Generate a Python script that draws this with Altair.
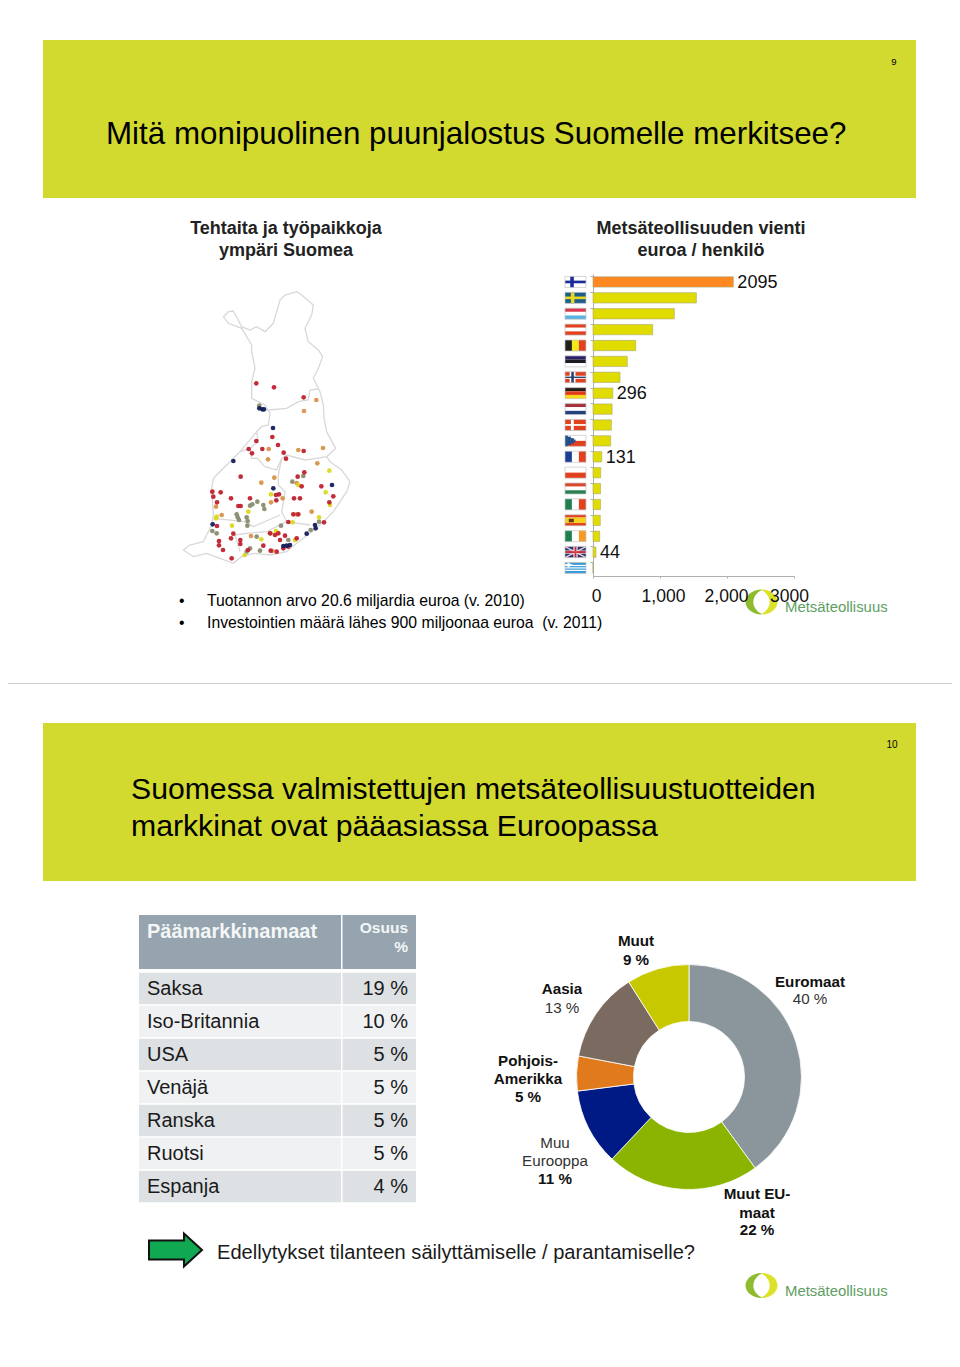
import altair as alt
import pandas as pd

FONT = "Liberation Sans"
PAGE_W, PAGE_H = 960, 1367

# ---- bar chart data
countries = ["FI","SE","LU","AT","BE","EE","NO","DE","NL","DK","CZ","FR","PL","HU","IT","ES","IE","UK","GR"]
export_values = [2095,1543,1214,891,637,512,403,296,285,274,264,131,115,113,113,109,100,44,0]
labelled = ["FI","DE","FR","UK"]

# ---- donut data
donut_names = ["Euromaat","Muut EU-maat","Muu Eurooppa","Pohjois-Amerikka","Aasia","Muut"]
donut_share = [40,22,11,5,13,9]
donut_colors = ["#8A969C","#8AB400","#001A85","#E07A1C","#7A6A60","#C8C800"]

# ---- table data
table_names = ["Saksa","Iso-Britannia","USA","Venäjä","Ranska","Ruotsi","Espanja"]
table_vals = ["19 %","10 %","5 %","5 %","5 %","5 %","4 %"]

# ---- flags: country, fx0, fx1, fy0, fy1, colour
R, B, W = "#E2411F", "#1F3F8F", "#FFFFFF"
flags = [
 ("FI",0,1,0,1,W),("FI",.25,.42,0,1,"#1A2A9A"),("FI",0,1,.38,.62,"#1A2A9A"),
 ("SE",0,1,0,1,"#1B5E8C"),("SE",.28,.45,0,1,"#E6D81E"),("SE",0,1,.38,.62,"#E6D81E"),
 ("LU",0,1,0,.33,"#D9394A"),("LU",0,1,.33,.66,W),("LU",0,1,.66,1,"#58B4E0"),
 ("AT",0,1,0,.33,R),("AT",0,1,.33,.66,W),("AT",0,1,.66,1,R),
 ("BE",0,.33,0,1,"#231F1A"),("BE",.33,.66,0,1,"#F4E81A"),("BE",.66,1,0,1,R),
 ("EE",0,1,0,.33,"#2A1F6A"),("EE",0,1,.33,.66,"#1E1A22"),("EE",0,1,.66,1,W),
 ("NO",0,1,0,1,R),("NO",.22,.5,0,1,W),("NO",0,1,.36,.64,W),("NO",.3,.42,0,1,"#1F3F6F"),("NO",0,1,.44,.56,"#1F3F6F"),
 ("DE",0,1,0,.33,"#241C14"),("DE",0,1,.33,.66,"#E03A1A"),("DE",0,1,.66,1,"#F8D81A"),
 ("NL",0,1,0,.33,"#A8303A"),("NL",0,1,.33,.66,W),("NL",0,1,.66,1,"#24407F"),
 ("DK",0,1,0,1,R),("DK",.28,.42,0,1,W),("DK",0,1,.42,.58,W),
 ("CZ",0,1,0,.5,W),("CZ",0,1,.5,1,R),("CZ",0,.14,0,1,"#1F4F8A"),("CZ",.14,.28,.12,.88,"#1F4F8A"),("CZ",.28,.42,.25,.75,"#1F4F8A"),("CZ",.42,.5,.38,.62,"#1F4F8A"),
 ("FR",0,.33,0,1,"#1A3F95"),("FR",.33,.66,0,1,W),("FR",.66,1,0,1,R),
 ("PL",0,1,0,.5,W),("PL",0,1,.5,1,R),
 ("HU",0,1,0,.33,"#D84A2F"),("HU",0,1,.33,.66,W),("HU",0,1,.66,1,"#2A8050"),
 ("IT",0,.33,0,1,"#1E8050"),("IT",.33,.66,0,1,W),("IT",.66,1,0,1,R),
 ("ES",0,1,0,.25,R),("ES",0,1,.25,.75,"#F6D01E"),("ES",0,1,.75,1,R),("ES",.18,.42,.36,.68,"#6A3A1A"),
 ("IE",0,.33,0,1,"#1E8050"),("IE",.33,.66,0,1,W),("IE",.66,1,0,1,"#F59A24"),
 ("UK",0,1,0,1,"#2A2F6F"),("UK",.4,.6,0,1,W),("UK",0,1,.36,.64,W),("UK",.45,.55,0,1,"#C8283A"),("UK",0,1,.43,.57,"#C8283A"),
 ("GR",0,1,0,1,"#3A9AD8"),("GR",0,1,.22,.33,W),("GR",0,1,.44,.55,W),("GR",0,1,.66,.77,W),("GR",0,.35,.15,.3,W),("GR",.12,.22,0,.44,W),
]
uk_diagonals = [(0,0,1,1),(0,1,1,0)]

# ---- Finland outline (page px)
map_outline = [(160,95),(175,80),(190,78),(205,105),(215,125),(240,135),(260,125),(285,140),(310,115),(320,80),(330,45),(345,30),(380,20),(395,30),(430,60),(425,90),(405,130),(415,170),(445,195),(458,215),(445,250),(430,280),(450,320),(460,360),(462,400),(470,440),(497,490),(470,515),(480,530),(515,555),(540,590),(530,620),(510,650),(490,680),(460,710),(420,745),(380,775),(350,800),(300,810),(250,805),(215,815),(190,835),(150,820),(110,805),(70,815),(40,795),(60,780),(100,770),(125,720),(130,690),(125,610),(130,580),(170,540),(210,500),(260,440),(275,425),(295,420),(300,385),(285,360),(245,340),(245,290),(255,250),(245,200),(245,180),(215,130),(175,115),(160,95)]
map_regions = [
 [(295,375),(350,370),(385,350),(415,345),(420,315),(445,312)],
 [(260,440),(265,470),(240,490),(210,500)],
 [(240,490),(245,520),(262,520),(285,545),(320,555),(335,520),(350,510),(405,525),(440,520),(470,515)],
 [(335,520),(325,570),(325,600),(345,620),(335,680),(350,710),(420,720)],
 [(130,700),(225,710),(250,725),(330,690)],
 [(195,750),(230,745),(290,740),(350,710)],
 [(195,750),(210,800)],
]
map_red = [(259,295),(312,307),(401,337),(307,456),(259,468),(324,480),(277,492),(236,492),(246,505),(341,503),(348,521),(401,498),(403,562),(383,575),(212,575),(395,604),(372,640),(390,640),(454,604),(490,634),(318,630),(327,628),(319,646),(240,640),(183,640),(152,622),(127,620),(130,635),(141,652),(205,663),(212,663),(355,711),(370,688),(385,688),(478,652),(141,723),(190,746),(183,760),(211,765),(211,777),(147,768),(147,781),(159,795),(185,820),(280,782),(234,795),(302,797),(320,800),(345,752),(330,765),(340,790),(355,785),(380,760),(462,712),(300,745),(315,750),(325,745)]
map_navy = [(268,370),(277,373),(282,373),(309,429),(190,528),(310,610),(486,600),(128,718),(410,746),(435,720),(437,730),(340,783),(350,782),(360,780)]
map_orange = [(439,345),(402,378),(296,492),(294,523),(385,495),(459,489),(442,535),(313,578),(274,593),(338,640),(303,652),(425,680),(380,688),(155,690),(138,665),(302,745),(243,753),(307,798),(380,594)]
map_yellow = [(478,557),(467,622),(480,660),(303,628),(186,722),(138,700),(140,695),(235,680),(274,763),(224,810),(368,712),(375,765),(318,738),(447,697),(385,600),(320,745)]
map_grey = [(367,590),(400,573),(262,650),(240,662),(247,658),(280,660),(283,672),(200,688),(203,697),(207,705),(230,697),(233,708),(232,722),(127,738),(140,745),(260,755),(270,797),(240,790),(230,800),(355,765),(422,735),(447,710),(333,722),(268,362)]


def zx(v): return 170 + v / 3
def zy(v): return 285 + v / 3

PX = alt.Scale(domain=[0, PAGE_W], range=[-8, PAGE_W - 8], nice=False, zero=False)
PY = alt.Scale(domain=[0, PAGE_H], range=[-8, PAGE_H - 8], nice=False, zero=False)
X = lambda f="x": alt.X(f"{f}:Q", scale=PX, axis=None)
Y = lambda f="y": alt.Y(f"{f}:Q", scale=PY, axis=None)


def rects(rows, **kw):
    df = pd.DataFrame(rows, columns=["x", "x1", "y", "y1", "c"])
    return alt.Chart(df).mark_rect(**kw).encode(X(), x2="x1:Q", y=Y(), y2="y1:Q",
                                                 fill=alt.Fill("c:N", scale=None))


def texts(rows, size, color="#000000", weight="normal", align="left", **kw):
    df = pd.DataFrame(rows, columns=["x", "y", "t"])
    return alt.Chart(df).mark_text(font=FONT, fontSize=size, color=color, fontWeight=weight,
                                   align=align, baseline="alphabetic", **kw).encode(X(), Y(), text="t:N")


layers = []
# panels
layers.append(rects([(43, 916, 40, 198, "#D2D92F"), (43, 916, 723, 881, "#D2D92F"),
                     (0, 960, 683, 684, "#CFCFCF")]))
layers.append(texts([(894, 65, "9")], 9.5, align="center"))
layers.append(texts([(892, 748, "10")], 10, align="center"))
layers.append(texts([(106, 144, "Mitä monipuolinen puunjalostus Suomelle merkitsee?")], 31.35))
layers.append(texts([(131, 799, "Suomessa valmistettujen metsäteollisuustuotteiden"),
                     (131, 836, "markkinat ovat pääasiassa Euroopassa")], 30.2))
layers.append(texts([(286, 234, "Tehtaita ja työpaikkoja"), (286, 256, "ympäri Suomea"),
                     (701, 234, "Metsäteollisuuden vienti"), (701, 256, "euroa / henkilö")],
                    18, weight="bold", align="center", color="#222222"))
layers.append(texts([(179, 606, "•"), (179, 628, "•"),
                     (207, 606, "Tuotannon arvo 20.6 miljardia euroa (v. 2010)"),
                     (207, 628, "Investointien määrä lähes 900 miljoonaa euroa\u00a0 (v. 2011)")], 15.75))

# map
for i, line in enumerate([map_outline] + map_regions):
    df = pd.DataFrame([{"x": zx(a), "y": zy(b), "i": k} for k, (a, b) in enumerate(line)])
    layers.append(alt.Chart(df).mark_line(color="#D8D8D8", strokeWidth=1.3).encode(X(), Y(), order="i:Q"))
for pts, col in [(map_orange, "#D9924A"), (map_grey, "#8A8C70"), (map_yellow, "#DCD820"),
                 (map_red, "#C0212E"), (map_navy, "#141E5A")]:
    df = pd.DataFrame([{"x": zx(a), "y": zy(b)} for a, b in pts])
    layers.append(alt.Chart(df).mark_circle(color=col, size=22, opacity=.95).encode(X(), Y()))

# flags
ROW0, ROWS = 274, 15.89
flag_rows = []
for c, a, b, t, u, col in flags:
    cy = ROW0 + ROWS * (countries.index(c) + .5)
    flag_rows.append((565 + 21 * a, 565 + 21 * b, cy - 5.5 + 11 * t, cy - 5.5 + 11 * u, col))
layers.append(rects(flag_rows))
uk_y = ROW0 + ROWS * (countries.index("UK") + .5)
for a, t, b, u in uk_diagonals:
    df = pd.DataFrame([{"x": 565 + 21 * a, "y": uk_y - 5.5 + 11 * t, "k": 0},
                       {"x": 565 + 21 * b, "y": uk_y - 5.5 + 11 * u, "k": 1}])
    layers.append(alt.Chart(df).mark_line(color="#E8D0D4", strokeWidth=1.5).encode(X(), Y(), order="k:Q"))
layers.append(rects([(565, 586, uk_y - .8, uk_y + .8, "#C8283A")]))
frame_rows = [(565, 586, ROW0 + ROWS * (i + .5) - 5.5, ROW0 + ROWS * (i + .5) + 5.5, "transparent")
              for i in range(len(countries))]
layers.append(rects(frame_rows, stroke="#C4C4C4", strokeWidth=.7))

# bars
bar_df = pd.DataFrame({"c": countries, "v": export_values,
                       "col": ["#FF8820"] + ["#E0DC00"] * (len(countries) - 1)})
BX = alt.Scale(domain=[0, 3000], range=[585, 786], nice=False)
BY = alt.Scale(domain=countries, range=[266, 568], paddingInner=.35, paddingOuter=.175)
layers.append(alt.Chart(bar_df).mark_bar(stroke="#A8A878", strokeWidth=.6).encode(
    x=alt.X("v:Q", scale=BX, axis=alt.Axis(
        orient="bottom", offset=568 - (PAGE_H - 16), values=[0, 1000, 2000, 3000], title=None, grid=False,
        domainColor="#B0B0B0", tickColor="#B0B0B0", tickSize=2, labelFont=FONT, labelFontSize=17.5,
        labelColor="#111111", labelPadding=9, labelOverlap=False, labelFlush=False, zindex=1,
        labelExpr="datum.value==3000?'3000':format(datum.value,',')",
        labelOffset={"condition": [{"test": "datum.value==3000", "value": -5},
                                   {"test": "datum.value==2000", "value": -1}], "value": 3})),
    y=alt.Y("c:N", scale=BY, sort=countries, axis=alt.Axis(
        orient="left", offset=-585, labels=False, title=None, grid=False, bandPosition=0,
        domainColor="#B0B0B0", tickColor="#B0B0B0", tickSize=3)),
    fill=alt.Fill("col:N", scale=None)))
layers.append(alt.Chart(bar_df[bar_df.c.isin(labelled)]).mark_text(
    font=FONT, fontSize=18, align="left", baseline="middle", dx=4, dy=1, color="#111111").encode(
    x=alt.X("v:Q", scale=BX, axis=None), y=alt.Y("c:N", scale=BY, sort=countries, axis=None),
    text="v:Q"))

# logos
LEFT_HALF = "M0,-0.78C-0.55,-0.78,-1,-0.43,-1,0C-1,0.43,-0.55,0.78,0,0.78Z"
RIGHT_HALF = "M0,-0.78C0.55,-0.78,1,-0.43,1,0C1,0.43,0.55,0.78,0,0.78Z"
LEAF = "M0,-0.74C0.68,-0.4,0.68,0.4,0,0.74C-0.68,0.4,-0.68,-0.4,0,-0.74Z"
for cx, cy, tb in [(761.5, 602, 612), (761.5, 1285.5, 1296)]:
    for shape, col in [(LEFT_HALF, "#8FBB2E"), (RIGHT_HALF, "#DCE22A"), (LEAF, "#FFFFFF")]:
        df = pd.DataFrame([{"x": cx, "y": cy}])
        layers.append(alt.Chart(df).mark_point(shape=shape, size=1024, filled=True, color=col, opacity=1)
                      .encode(X(), Y()))
    layers.append(texts([(785, tb, "Metsäteollisuus")], 14.9, color="#5E9E62"))

# table
table_rects = [(139, 341, 915, 969, "#95A4AE"), (342.5, 416, 915, 969, "#95A4AE")]
table_text, table_num = [], []
for i, (n, v) in enumerate(zip(table_names, table_vals)):
    t = 972.7 + 33 * i
    col = "#DDE1E4" if i % 2 == 0 else "#EFF1F3"
    table_rects += [(139, 341, t, t + 31.5, col), (342.5, 416, t, t + 31.5, col)]
    table_text.append((147, t + 22, n))
    table_num.append((408, t + 22, v))
layers.append(rects(table_rects))
layers.append(texts(table_text, 20, color="#1A1A1A"))
layers.append(texts(table_num, 20, color="#1A1A1A", align="right"))
layers.append(texts([(147, 938, "Päämarkkinamaat")], 20, color="#F4F6F7", weight="bold"))
layers.append(texts([(408, 933, "Osuus"), (408, 952, "%")], 15.5, color="#F4F6F7", weight="bold", align="right"))

# arrow
ARROW = "M-1,-0.36L0.32,-0.36L0.32,-0.62L1,0L0.32,0.62L0.32,0.36L-1,0.36Z"
layers.append(alt.Chart(pd.DataFrame([{"x": 175.5, "y": 1250}])).mark_point(
    shape=ARROW, size=2809, filled=True, fill="#10A850", stroke="#111111", strokeWidth=2, opacity=1
).encode(X(), Y()))
layers.append(texts([(217, 1259, "Edellytykset tilanteen säilyttämiselle / parantamiselle?")], 20.1, color="#1A1A1A"))

# donut
donut_df = pd.DataFrame({"n": donut_names, "s": donut_share, "col": donut_colors,
                         "o": range(len(donut_names))})
layers.append(alt.Chart(donut_df).mark_arc(innerRadius=55.5, outerRadius=112.5, stroke="#FFFFFF", strokeWidth=.8).encode(
    theta=alt.Theta("s:Q", stack=True, scale=alt.Scale(domain=[0, 100], range=[0, 6.28318530718])),
    order=alt.Order("o:Q"),
    fill=alt.Fill("col:N", scale=None),
    x=alt.value(681), y=alt.value(1069)))
layers.append(texts([(636, 946, "Muut"), (636, 965, "9 %"),
                     (810, 987, "Euromaat"),
                     (528, 1066, "Pohjois-"), (528, 1084, "Amerikka"), (528, 1102, "5 %"),
                     (555, 1184, "11 %"),
                     (757, 1199, "Muut EU-"), (757, 1218, "maat"), (757, 1235, "22 %"),
                     (562, 994, "Aasia")],
                    15.2, color="#111111", weight="bold", align="center"))
layers.append(texts([(810, 1004, "40 %"), (562, 1013, "13 %"),
                     (555, 1148, "Muu"), (555, 1166, "Eurooppa")],
                    15.2, color="#333333", align="center"))

chart = alt.layer(*layers).resolve_scale(x="independent", y="independent", theta="independent").properties(
    width=PAGE_W - 16, height=PAGE_H - 16, padding=0,
    autosize=alt.AutoSizeParams(type="none")
).configure_view(stroke=None)

chart.save("out.html", embed_options={"renderer": "svg", "actions": False})
